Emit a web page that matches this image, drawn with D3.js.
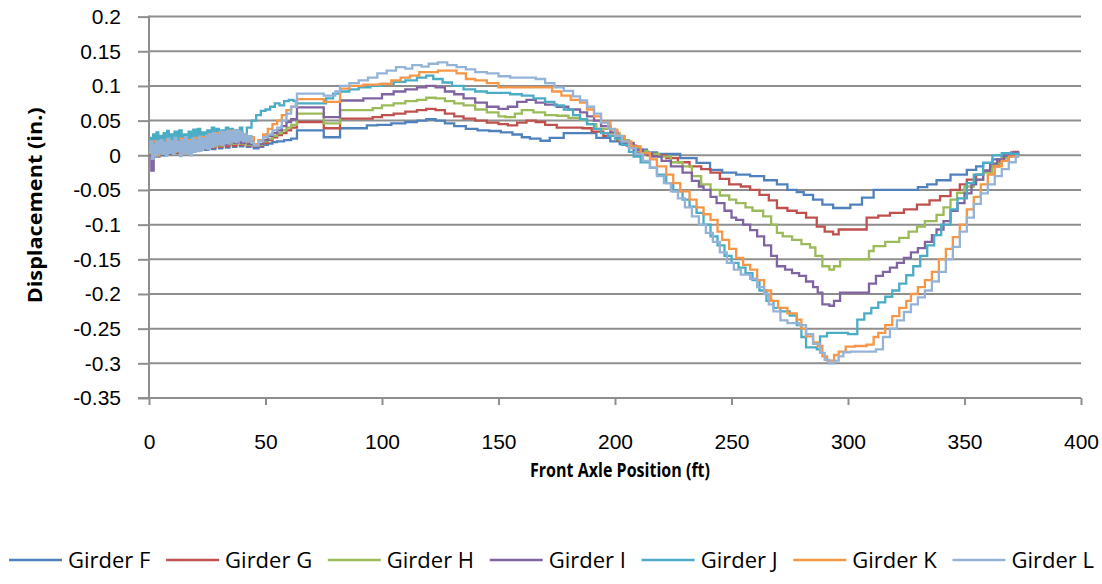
<!DOCTYPE html>
<html>
<head>
<meta charset="utf-8">
<script src="https://cdn.jsdelivr.net/npm/d3@7"></script>
<style>
  html, body { margin: 0; padding: 0; background: #fff; }
  svg { display: block; font-family: "Open Sans", "Liberation Sans", sans-serif; }
</style>
</head>
<body>
<svg id="chart" width="1102" height="584"></svg>
<script>
/* Axis ticks */
const xTicks = [0, 50, 100, 150, 200, 250, 300, 350, 400];
const yTicks = [0.2, 0.15, 0.1, 0.05, 0, -0.05, -0.1, -0.15, -0.2, -0.25, -0.3, -0.35];

const girderNames = ['Girder F', 'Girder G', 'Girder H', 'Girder I', 'Girder J', 'Girder K', 'Girder L'];
const girderColors = ['#4f81bd', '#c0504d', '#9bbb59', '#8064a2', '#4bacc6', '#f79646', '#95b3d7'];

/* [front axle position (ft), displacement (in.)] */
const girderF = [
  [0,0.002],[1.5,0.012],[3,-0.002],[4.5,0.012],[6,0.0],[7.5,0.014],[9,0.002],[10.5,0.013],[12,0.003],[13.5,0.015],
  [15,0.004],[16.5,0.016],[18,0.006],[19.5,0.017],[21,0.007],[22.5,0.018],[24,0.008],[25.5,0.02],[27,0.009],[28.5,0.02],
  [30,0.01],[31.5,0.02],[33,0.011],[34.5,0.021],[36,0.012],[37.5,0.02],[39,0.013],[40.5,0.018],[42,0.012],[43.5,0.015],
  [45,0.01],[47,0.012],[49,0.015],[51,0.017],[53,0.019],[55,0.02],[58,0.022],[61,0.024],[63.5,0.036],[75,0.026],
  [82,0.039],[93.5,0.043],[98,0.044],[104,0.046],[110,0.048],[115,0.05],[119,0.052],[123,0.05],[127,0.046],[131,0.042],
  [136,0.038],[141,0.036],[146,0.035],[151,0.033],[156,0.03],[160,0.026],[163.5,0.024],[168,0.021],[172,0.025],[178,0.032],
  [188,0.032],[192,0.025],[198,0.02],[202,0.016],[206,0.013],[210,0.008],[213.7,0.004],[218,0.002],[222,0.002],[228,-0.004],
  [235,-0.011],[240.8,-0.021],[246,-0.025],[252,-0.028],[258,-0.03],[264,-0.036],[269.5,-0.042],[274,-0.05],[278,-0.053],[281,-0.057],
  [285,-0.064],[289,-0.071],[293.6,-0.076],[301,-0.071],[306,-0.061],[311,-0.05],[326.6,-0.05],[330,-0.046],[334,-0.042],[338,-0.036],
  [344,-0.028],[351,-0.021],[355,-0.016],[358,-0.011],[362,-0.006],[366,-0.002],[370,0.003],[373,0]
];
const girderG = [
  [0,0.004],[1.5,0.014],[3,0.0],[4.5,0.015],[6,0.002],[7.5,0.016],[9,0.003],[10.5,0.015],[12,0.004],[13.5,0.017],
  [15,0.005],[16.5,0.018],[18,0.007],[19.5,0.02],[21,0.008],[22.5,0.02],[24,0.01],[25.5,0.022],[27,0.011],[28.5,0.022],
  [30,0.012],[31.5,0.023],[33,0.013],[34.5,0.024],[36,0.014],[37.5,0.023],[39,0.015],[40.5,0.02],[42,0.014],[43.5,0.018],
  [45,0.012],[47,0.014],[49,0.018],[51,0.022],[53,0.026],[55,0.029],[57,0.032],[59,0.036],[61,0.04],[63.5,0.048],
  [75,0.039],[82,0.053],[96,0.055],[100,0.058],[105,0.06],[110,0.063],[115,0.065],[119,0.067],[123,0.065],[127,0.06],
  [131,0.056],[135,0.053],[140,0.05],[145,0.047],[150,0.045],[154,0.043],[158,0.047],[162,0.05],[166,0.048],[170,0.044],
  [175,0.04],[186,0.039],[190,0.034],[195,0.028],[201,0.022],[205,0.014],[209,0.005],[214,0.0],[222,-0.004],[227,-0.01],
  [232,-0.016],[237,-0.02],[241,-0.025],[245,-0.034],[249,-0.042],[254,-0.045],[258,-0.05],[262,-0.057],[266,-0.065],[269.5,-0.076],
  [274,-0.08],[278,-0.083],[282,-0.09],[286.6,-0.103],[290,-0.11],[293.6,-0.114],[296,-0.107],[305,-0.107],[308,-0.09],[313,-0.087],
  [318,-0.083],[324,-0.078],[329.6,-0.071],[335,-0.065],[339.5,-0.059],[344,-0.05],[348,-0.042],[351,-0.035],[355,-0.028],[358,-0.022],
  [361,-0.016],[365,-0.008],[369,0.0],[371,0.005],[373,0]
];
const girderH = [
  [0,0.002],[1.5,0.015],[3,0.0],[4.5,0.016],[6,0.003],[7.5,0.018],[9,0.004],[10.5,0.016],[12,0.005],[13.5,0.018],
  [15,0.006],[16.5,0.02],[18,0.008],[19.5,0.022],[21,0.01],[22.5,0.022],[24,0.012],[25.5,0.025],[27,0.013],[28.5,0.025],
  [30,0.014],[31.5,0.026],[33,0.016],[34.5,0.027],[36,0.017],[37.5,0.026],[39,0.017],[40.5,0.022],[42,0.015],[43.5,0.02],
  [45,0.012],[47,0.015],[49,0.02],[51,0.024],[53,0.028],[55,0.032],[57,0.036],[59,0.04],[61,0.044],[63.5,0.06],
  [75,0.046],[82,0.065],[96,0.068],[100,0.072],[105,0.075],[110,0.078],[115,0.08],[119,0.083],[123,0.082],[127,0.078],
  [131,0.075],[135,0.072],[140,0.066],[145,0.062],[150,0.056],[153,0.055],[157,0.06],[160,0.065],[165,0.062],[170,0.058],
  [175,0.057],[180,0.054],[185,0.051],[188,0.045],[192,0.038],[198,0.032],[202,0.022],[206,0.012],[210,0.006],[214,0.002],
  [219,-0.002],[224,-0.01],[229,-0.016],[233,-0.03],[237,-0.042],[241,-0.05],[245,-0.058],[249,-0.064],[252,-0.069],[256,-0.075],
  [259,-0.08],[263.6,-0.088],[267,-0.1],[269.5,-0.112],[272,-0.117],[276,-0.122],[280,-0.128],[283.7,-0.133],[286,-0.145],[289,-0.16],
  [292,-0.165],[294,-0.16],[296.6,-0.15],[306,-0.15],[309,-0.138],[311,-0.131],[316,-0.125],[322,-0.119],[326,-0.11],[329.6,-0.103],
  [333,-0.095],[338,-0.086],[341,-0.075],[344,-0.064],[346.8,-0.054],[350,-0.045],[354,-0.035],[358,-0.025],[362,-0.012],[366,-0.004],
  [369,0.002],[373,0]
];
const girderI = [
  [0,0.0],[1,-0.022],[2,0.01],[3.5,0.0],[5,0.018],[6.5,0.004],[8,0.02],[9.5,0.003],[11,0.018],[12.5,0.005],
  [14,0.02],[15.5,0.005],[17,0.022],[18.5,0.008],[20,0.024],[21.5,0.01],[23,0.025],[24.5,0.012],[26,0.028],[27.5,0.014],
  [29,0.027],[30.5,0.015],[32,0.028],[33.5,0.016],[35,0.03],[36.5,0.018],[38,0.028],[39.5,0.018],[41,0.024],[42.5,0.016],
  [44,0.02],[45,0.012],[47,0.016],[49,0.022],[51,0.028],[53,0.032],[55,0.036],[57,0.042],[59,0.048],[61,0.052],
  [63.5,0.069],[75,0.055],[82,0.079],[92,0.082],[96,0.082],[100,0.088],[105,0.092],[110,0.095],[115,0.098],[119,0.1],
  [123,0.098],[127,0.092],[131,0.088],[135,0.082],[140,0.076],[145,0.07],[150,0.067],[154,0.07],[158,0.077],[162,0.08],
  [166,0.076],[170,0.073],[175,0.07],[180,0.066],[185,0.062],[188,0.056],[191,0.05],[194,0.042],[198,0.033],[201,0.027],
  [204,0.018],[208,0.008],[212,0.002],[216,-0.002],[220,-0.008],[224,-0.016],[229,-0.025],[233,-0.037],[236,-0.045],[238,-0.05],
  [241,-0.06],[243.6,-0.069],[247,-0.08],[250,-0.09],[252,-0.093],[255,-0.1],[258,-0.108],[261,-0.117],[264,-0.13],[267,-0.145],
  [269.5,-0.16],[273,-0.165],[276,-0.17],[279,-0.174],[282,-0.182],[285,-0.19],[287,-0.198],[289,-0.215],[292,-0.217],[294,-0.21],
  [296.6,-0.198],[306,-0.198],[309,-0.185],[312,-0.174],[315,-0.168],[318,-0.162],[321,-0.155],[324,-0.148],[327,-0.14],[330,-0.134],
  [333,-0.125],[336,-0.115],[338,-0.107],[341,-0.095],[344,-0.08],[347,-0.069],[350,-0.055],[353,-0.042],[355,-0.035],[358,-0.022],
  [361,-0.012],[364,-0.006],[367,0.0],[370,0.004],[373,0]
];
const girderJ = [
  [0,0.01],[0.6,0.025],[1.2,0.005],[1.8,0.03],[2.5,0.012],[3.2,0.033],[4,0.015],[4.8,0.028],[5.5,0.01],[6.3,0.032],
  [7,0.018],[7.8,0.035],[8.5,0.02],[9.3,0.03],[10,0.012],[11,0.034],[12,0.02],[13,0.036],[14,0.022],[15,0.03],
  [16,0.015],[17,0.034],[18,0.02],[19,0.037],[20,0.024],[21,0.038],[22,0.02],[23,0.033],[24,0.018],[25,0.036],
  [26,0.024],[27,0.04],[28,0.026],[29,0.038],[30,0.022],[31,0.036],[32,0.025],[33,0.04],[34,0.028],[35,0.038],
  [36,0.024],[37,0.036],[38,0.028],[39,0.04],[40,0.03],[42,0.04],[44,0.05],[46,0.058],[48,0.064],[50,0.066],
  [52,0.07],[54,0.075],[56,0.072],[58,0.078],[60,0.08],[62,0.078],[63.5,0.075],[76,0.082],[79,0.089],[82,0.092],
  [86,0.095],[90,0.098],[95,0.1],[100,0.103],[105,0.106],[110,0.108],[115,0.112],[119,0.115],[122,0.11],[126,0.105],
  [130,0.1],[135,0.095],[140,0.092],[145,0.09],[155,0.088],[160,0.086],[165,0.082],[170,0.077],[174,0.072],[178,0.066],
  [182,0.058],[185,0.052],[188,0.045],[191,0.038],[194,0.032],[197,0.028],[200,0.024],[203,0.015],[206,0.005],[208,-0.002],
  [211,-0.01],[215,-0.018],[218,-0.028],[222,-0.04],[225,-0.052],[229,-0.064],[232,-0.074],[235,-0.083],[238,-0.1],[241,-0.117],
  [244,-0.13],[247,-0.145],[250,-0.155],[253,-0.162],[256,-0.17],[259,-0.18],[262,-0.195],[265,-0.21],[268,-0.22],[271,-0.225],
  [275,-0.231],[278,-0.245],[280,-0.262],[282,-0.277],[286.6,-0.28],[288,-0.261],[291,-0.256],[300,-0.258],[304,-0.237],[307,-0.228],
  [310,-0.22],[313,-0.212],[316,-0.204],[319,-0.195],[322,-0.185],[325,-0.173],[328,-0.16],[331,-0.145],[334,-0.13],[337,-0.115],
  [340,-0.1],[344,-0.078],[347,-0.062],[351,-0.04],[354,-0.028],[358,-0.011],[362,0],[366,0.003],[370,0.002],[373,0]
];
const girderK = [
  [0,0.005],[1.5,0.02],[3,0.0],[4.5,0.018],[6,0.005],[7.5,0.022],[9,0.004],[10.5,0.02],[12,0.006],[13.5,0.024],
  [15,0.004],[16.5,0.022],[18,0.008],[19.5,0.025],[21,0.01],[22.5,0.026],[24,0.012],[25.5,0.03],[27,0.014],[28.5,0.032],
  [30,0.016],[31.5,0.033],[33,0.02],[34.5,0.035],[36,0.022],[37.5,0.034],[39,0.024],[40.5,0.03],[42,0.02],[43.5,0.026],
  [45,0.016],[47,0.022],[49,0.03],[51,0.038],[53,0.045],[55,0.05],[57,0.058],[59,0.065],[61,0.07],[63.5,0.081],
  [75,0.077],[82,0.096],[86,0.1],[92,0.102],[99,0.103],[104,0.108],[108,0.112],[112,0.115],[116,0.12],[124,0.122],
  [132,0.118],[136,0.11],[140,0.108],[145,0.104],[150,0.098],[169,0.098],[173,0.092],[177,0.086],[181,0.08],[185,0.076],
  [188,0.066],[191,0.056],[194,0.048],[198,0.037],[201,0.028],[204,0.02],[207,0.013],[211,0.003],[215,-0.006],[218,-0.016],
  [222,-0.028],[225,-0.04],[228,-0.052],[232,-0.064],[235,-0.075],[238,-0.085],[241,-0.093],[244,-0.11],[246,-0.122],[249,-0.135],
  [252,-0.148],[255,-0.158],[258,-0.165],[261,-0.18],[264,-0.195],[267,-0.21],[270,-0.22],[274,-0.228],[278,-0.237],[280,-0.25],
  [282,-0.261],[285,-0.27],[287,-0.275],[289,-0.29],[291,-0.296],[294,-0.288],[296,-0.283],[299,-0.276],[303,-0.275],[308,-0.273],
  [311,-0.262],[313,-0.256],[316,-0.245],[319,-0.232],[322,-0.22],[325,-0.21],[327,-0.2],[330,-0.19],[333,-0.18],[336,-0.168],
  [339,-0.15],[342,-0.135],[345,-0.118],[348,-0.1],[351,-0.078],[354,-0.06],[357,-0.042],[360,-0.028],[363,-0.016],[366,-0.008],
  [369,-0.002],[373,0]
];
const girderL = [
  [0,0.005],[0.7,0.02],[1.3,-0.005],[2,0.015],[2.8,0.0],[3.5,0.02],[4.2,0.003],[5,0.022],[5.8,0.002],[6.5,0.018],
  [7.3,0.0],[8,0.024],[8.8,0.004],[9.5,0.02],[10.3,0.002],[11,0.025],[11.8,0.006],[12.5,0.019],[13.3,-0.001],[14,0.022],
  [14.8,0.004],[15.5,0.026],[16.3,0.003],[17,0.02],[17.8,0.0],[18.5,0.024],[19.3,0.005],[20,0.021],[20.8,0.006],[21.5,0.027],
  [22.3,0.008],[23,0.024],[23.8,0.01],[24.5,0.028],[25.3,0.009],[26,0.03],[26.8,0.012],[27.5,0.032],[28.3,0.014],[29,0.03],
  [29.8,0.016],[30.5,0.034],[31.3,0.015],[32,0.033],[32.8,0.018],[33.5,0.035],[34.3,0.017],[35,0.034],[35.8,0.02],[36.5,0.036],
  [37.3,0.019],[38,0.035],[38.8,0.022],[39.5,0.033],[40.3,0.02],[41,0.03],[42,0.02],[43,0.028],[44,0.018],[45,0.014],
  [47,0.02],[49,0.026],[51,0.03],[53,0.036],[55,0.04],[57,0.05],[59,0.06],[61,0.07],[63,0.077],[63.5,0.089],
  [75,0.086],[80,0.092],[82,0.1],[86,0.104],[90,0.108],[94,0.112],[98,0.118],[102,0.122],[106,0.127],[110,0.125],
  [113,0.13],[117,0.128],[120,0.132],[124,0.134],[128,0.13],[132,0.127],[136,0.124],[140,0.12],[145,0.118],[150,0.114],
  [155,0.112],[166,0.11],[170,0.104],[174,0.098],[178,0.093],[182,0.085],[185,0.079],[188,0.07],[191,0.06],[194,0.047],
  [197,0.038],[200,0.028],[203,0.02],[206,0.01],[209,0.002],[212,-0.008],[215,-0.018],[218,-0.03],[221,-0.04],[224,-0.052],
  [227,-0.062],[230,-0.075],[233,-0.088],[236,-0.1],[239,-0.112],[242,-0.125],[245,-0.14],[248,-0.155],[251,-0.165],[254,-0.172],
  [258,-0.178],[261,-0.19],[264,-0.2],[266,-0.215],[268,-0.225],[271,-0.238],[274,-0.242],[279,-0.245],[282,-0.258],[285,-0.272],
  [288,-0.285],[290,-0.295],[292,-0.3],[294,-0.296],[296,-0.29],[298,-0.284],[301,-0.283],[312,-0.28],[315,-0.262],[318,-0.25],
  [321,-0.238],[324,-0.226],[327,-0.215],[330,-0.205],[333,-0.195],[336,-0.182],[339,-0.168],[342,-0.15],[345,-0.132],[348,-0.11],
  [351,-0.09],[354,-0.07],[357,-0.055],[360,-0.042],[363,-0.03],[366,-0.02],[369,-0.01],[372,-0.002],[373,0]
];

const girders = [girderF, girderG, girderH, girderI, girderJ, girderK, girderL];

/* Layout */
const plot = { left: 149, right: 1081, top: 16.6, bottom: 398 };
const gridColor = '#8e8e8e';

const svg = d3.select('#chart');

const x = d3.scaleLinear()
    .domain([0, 400])
    .range([plot.left, plot.right]);
const y = d3.scaleLinear()
    .domain([-0.35, 0.2])
    .range([plot.bottom, plot.top]);

const fmtY = (d) => String(+d.toFixed(2));

/* Grid lines */
svg.append('g')
    .attr('class', 'y-grid-lines')
    .selectAll('line')
    .data(yTicks)
    .join('line')
    .attr('x1', plot.left)
    .attr('x2', plot.right)
    .attr('y1', (d) => y(d))
    .attr('y2', (d) => y(d))
    .attr('stroke', gridColor)
    .attr('stroke-width', 2);

/* Y axis */
const yAxisD3 = svg.append('g')
    .attr('class', 'y-axis')
    .attr('transform', `translate(${plot.left},0)`)
    .call(d3.axisLeft(y).tickValues(yTicks).tickFormat(fmtY).tickSize(11).tickPadding(17));

/* X axis */
const xAxisD3 = svg.append('g')
    .attr('class', 'x-axis')
    .attr('transform', `translate(0,${plot.bottom})`)
    .call(d3.axisBottom(x).tickValues(xTicks).tickFormat(d3.format('d')).tickSize(7).tickPadding(29));

for (let axisD3 of [yAxisD3, xAxisD3]) {
  axisD3.select('.domain').remove();
  axisD3.selectAll('.tick line')
      .attr('stroke', gridColor)
      .attr('stroke-width', 2);
  axisD3.selectAll('.tick text')
      .attr('fill', '#000')
      .style('font-size', '21px');
}

/* Axis lines drawn over the grid */
svg.append('line')
    .attr('x1', plot.left).attr('x2', plot.left)
    .attr('y1', plot.top - 1).attr('y2', plot.bottom + 1)
    .attr('stroke', gridColor)
    .attr('stroke-width', 2);
svg.append('line')
    .attr('x1', plot.left - 11).attr('x2', plot.right)
    .attr('y1', plot.bottom).attr('y2', plot.bottom)
    .attr('stroke', gridColor)
    .attr('stroke-width', 2);

/* Series */
const line = d3.line()
    .x((d) => x(d[0]))
    .y((d) => y(d[1]))
    .curve(d3.curveStepAfter);

svg.append('g')
    .attr('class', 'data-container-group')
    .selectAll('path')
    .data(girders)
    .join('path')
    .attr('d', line)
    .attr('fill', 'none')
    .attr('stroke', (d, i) => girderColors[i])
    .attr('stroke-width', 2.3)
    .attr('stroke-linejoin', 'miter');

/* Axis titles */
svg.append('text')
    .attr('class', 'x-label')
    .attr('x', 620)
    .attr('y', 477)
    .attr('text-anchor', 'middle')
    .attr('textLength', 180)
    .attr('lengthAdjust', 'spacingAndGlyphs')
    .style('font-size', '20px')
    .style('font-weight', 'bold')
    .text('Front Axle Position (ft)');

svg.append('text')
    .attr('class', 'y-label')
    .attr('transform', `translate(42,${(plot.top + plot.bottom) / 2 - 2}) rotate(-90)`)
    .attr('text-anchor', 'middle')
    .attr('textLength', 196)
    .attr('lengthAdjust', 'spacingAndGlyphs')
    .style('font-size', '20px')
    .style('font-weight', 'bold')
    .text('Displacement (in.)');

/* Legend: items spread from the left edge to the right edge */
const legendD3 = svg.append('g')
    .attr('class', 'legend')
    .attr('transform', 'translate(0,560)');

const legendStart = 9;
const legendEnd = 1094;
const swatch = 53;
const swatchGap = 6;

let itemEls = girderNames.map((name, i) => {
  let itemD3 = legendD3.append('g');
  itemD3.append('line')
      .attr('x1', 0).attr('x2', swatch)
      .attr('stroke', girderColors[i])
      .attr('stroke-width', 2.3);
  let textD3 = itemD3.append('text')
      .attr('x', swatch + swatchGap)
      .attr('dy', '0.36em')
      .style('font-size', '22px')
      .text(name);
  let w = textD3.node().getComputedTextLength();
  return { itemD3, w };
});

let used = d3.sum(itemEls, (d) => swatch + swatchGap + d.w);
let gap = (legendEnd - legendStart - used) / (itemEls.length - 1);
let legendX = legendStart;
for (let item of itemEls) {
  item.itemD3.attr('transform', `translate(${legendX},0)`);
  legendX += swatch + swatchGap + item.w + gap;
}
</script>
</body>
</html>
